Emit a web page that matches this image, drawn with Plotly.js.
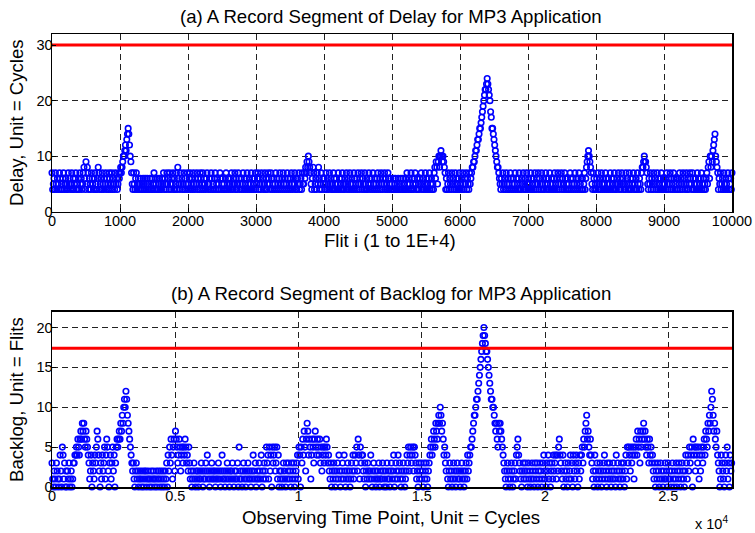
<!DOCTYPE html>
<html>
<head>
<meta charset="utf-8">
<script src="https://cdn.plot.ly/plotly-3.0.1.min.js"></script>
<style>
html,body{margin:0;padding:0;background:#ffffff;}
#chart{width:755px;height:533px;}
</style>
</head>
<body>
<div id="chart"></div>
<script>
// ---------------- DATA ----------------
// (a) Delay of flits, sampled every 10 flits; one array per 1000 flits
const delayStep = 10;
const delayBound = 30;
const delay0 = [7,4,5,6,4,7,5,4,6,5,4,7,6,4,5,4,6,7,4,5,
6,4,5,4,7,5,6,4,5,7,4,6,4,5,6,7,4,5,4,6,
4,7,5,6,4,5,7,8,6,4,9,5,8,7,4,6,5,4,7,6,
5,4,6,7,4,5,4,6,8,7,4,5,6,4,7,5,4,6,5,7,
4,6,5,4,7,6,4,5,7,4,6,5,4,7,5,6,4,5,7,6];
const delay1 = [7,8,7,8,9,10,10,11,12,11,13,14,15,14,12,10,9,7,5,4,
7,5,4,6,7,4,5,6,4,5,6,4,5,4,6,5,4,6,4,5,
6,4,5,4,6,5,4,6,4,5,7,4,6,5,4,6,4,5,6,4,
5,4,6,5,7,4,6,5,4,7,5,6,4,7,5,4,6,5,7,4,
6,4,5,7,4,8,6,5,4,7,5,6,4,5,7,4,6,5,4,7];
const delay2 = [5,4,6,7,4,5,6,4,7,5,4,6,5,7,4,6,5,4,7,6,
4,5,7,4,6,5,4,6,7,5,4,5,6,4,7,6,4,5,4,6,
7,4,5,6,4,5,4,7,6,4,5,6,4,5,4,6,7,4,5,6,
4,6,5,4,7,5,4,6,5,7,4,6,4,5,7,6,4,5,6,4,
5,7,4,6,5,4,6,7,4,5,6,4,5,7,4,6,5,4,6,7];
const delay3 = [4,5,6,7,4,6,5,4,7,5,6,4,5,7,4,6,4,5,7,6,
5,4,7,6,4,5,6,4,5,7,4,6,5,4,6,7,4,5,6,4,
7,5,4,6,5,4,7,6,4,5,6,4,7,5,4,6,5,7,4,6,
4,6,5,7,4,5,6,4,7,5,5,7,6,8,7,9,8,10,9,8,
7,5,4,6,8,7,4,5,6,4,7,5,8,6,4,5,7,4,6,5];
const delay4 = [6,4,5,7,4,6,5,4,7,5,6,4,5,4,7,6,4,5,6,4,
5,7,4,6,5,4,6,7,4,5,4,6,5,7,4,5,6,4,7,5,
4,6,5,4,7,6,4,5,6,4,7,5,4,6,5,7,4,6,5,4,
7,5,4,6,4,5,7,6,4,5,6,4,7,5,4,6,5,4,6,7,
4,5,6,4,7,5,4,6,5,7,4,6,5,4,7,6,4,5,6,4];
const delay5 = [5,4,6,4,5,6,4,4,5,6,4,5,4,6,5,4,6,4,5,4,
6,4,7,5,4,6,5,4,7,4,6,5,4,6,7,5,4,6,4,5,
4,6,5,7,4,5,6,4,5,7,4,6,5,4,6,7,4,5,6,4,
5,4,7,8,6,9,8,5,9,10,8,10,11,10,9,10,9,8,7,4,
6,4,5,7,4,6,5,4,7,5,6,4,5,7,4,6,5,4,6,7];
const delay6 = [4,5,6,4,7,5,4,6,5,7,4,6,5,4,7,5,6,7,8,8,
9,9,10,11,11,12,13,13,14,15,15,16,17,18,19,20,21,22,22,23,
24,23,22,21,20,18,17,15,15,14,13,12,11,10,9,8,8,7,6,5,
4,6,5,7,4,5,6,4,7,5,4,6,5,4,7,6,4,5,6,4,
5,7,4,6,5,4,6,7,4,5,4,6,5,7,4,5,6,4,7,5];
const delay7 = [4,6,5,4,7,6,4,5,6,4,7,5,4,6,5,7,4,6,5,4,
7,5,4,6,4,5,7,6,4,5,6,4,7,5,4,6,5,4,6,7,
4,5,6,4,7,5,4,6,5,7,4,6,5,4,7,6,4,5,6,4,
5,4,7,6,4,5,6,4,5,7,4,6,5,4,6,7,4,5,6,4,
6,4,5,7,4,6,8,9,10,11,10,9,8,7,5,4,7,6,4,5];
const delay8 = [4,6,5,7,4,5,6,4,7,5,4,6,5,4,7,6,4,5,6,4,
5,7,4,6,5,4,6,7,4,5,4,6,5,7,4,5,6,4,7,5,
6,4,5,4,7,5,6,4,5,7,4,6,4,5,6,7,4,5,4,6,
4,7,5,4,6,5,4,7,8,8,9,10,9,9,8,7,5,4,6,5,
7,4,6,5,4,7,5,6,4,5,7,4,6,5,4,6,7,4,5,6];
const delay9 = [4,5,6,4,7,5,4,6,5,7,4,6,5,4,7,6,4,5,6,4,
6,4,5,7,4,6,5,4,7,5,6,4,5,7,4,6,4,5,7,6,
5,4,7,6,4,5,6,4,5,7,4,6,5,4,6,7,4,5,6,4,
5,4,6,7,5,8,9,6,10,8,10,9,11,12,13,14,10,9,8,7,
4,6,5,7,4,5,6,4,7,5,4,6,5,4,7,6,4,5,6,4,7];
const delaySegments = [delay0,delay1,delay2,delay3,delay4,delay5,delay6,delay7,delay8,delay9];
const delayXTicks = [0,1000,2000,3000,4000,5000,6000,7000,8000,9000,10000];
const delayYTicks = [0,10,20,30];

// (b) Backlog, sampled every 30 cycles; one array per 3000 cycles
const backlogStep = 30;
const backlogBound = 17.4;
const backlog0 = [3,1,0,2,1,0,3,2,1,0,
1,4,2,0,5,4,1,3,0,2,
0,2,1,3,0,1,2,0,1,3,
3,4,4,5,4,6,5,4,6,7,
6,8,7,8,6,5,7,6,5,4,
3,1,2,4,0,3,2,1,4,3,
5,7,6,4,2,0,3,1,4,2,
3,5,1,4,6,5,2,0,3,4,
1,3,5,2,4,0,3,5,6,5,
6,7,6,8,7,9,8,10,11,10];
const backlog1 = [12,11,9,8,7,6,5,4,3,2,
3,1,0,2,3,1,2,0,1,2,
1,0,2,1,0,2,1,2,0,1,
2,1,0,1,2,0,1,2,1,0,
1,2,0,1,2,1,0,2,1,0,
2,1,0,2,1,3,0,4,2,5,
3,6,4,1,5,6,2,7,6,5,
3,4,6,5,2,4,5,3,5,4,
6,5,3,4,2,5,3,1,2,0,
1,2,3,1,0,2,1,2,0,1];
const backlog2 = [2,1,3,2,0,1,2,1,3,2,
4,1,2,0,1,2,3,1,2,1,
2,0,1,2,1,3,2,1,0,2,
4,1,2,1,0,2,1,3,2,1,
0,2,1,2,3,1,0,2,1,2,
1,3,0,5,1,2,1,0,2,3,
1,2,0,1,2,3,1,2,1,0,
2,1,4,2,1,3,0,1,2,1,
3,2,1,4,0,2,1,3,2,1,
5,3,4,1,5,2,4,0,5,3];
const backlog3 = [4,5,2,3,5,1,4,0,2,1,
2,0,1,3,2,1,0,3,1,2,
3,1,2,0,3,1,2,3,0,1,
2,3,4,1,5,4,0,5,3,6,
4,7,5,2,6,8,7,4,6,5,
1,4,6,5,3,6,7,5,4,6,
5,4,6,3,5,2,4,5,3,5,
4,6,5,3,4,2,1,3,0,2,
1,3,2,0,1,2,3,1,4,2,
0,1,2,3,1,4,2,0,1,2];
const backlog4 = [3,1,2,0,1,3,2,4,1,2,
4,3,5,2,6,4,1,5,3,4,
4,2,1,3,0,2,1,3,2,1,
2,4,1,0,2,3,1,2,0,1,
2,1,3,0,1,2,1,3,2,0,
1,2,0,3,1,2,1,0,2,3,
1,2,4,0,1,3,2,1,4,2,
3,1,0,2,1,3,2,0,1,2,
4,3,5,2,4,5,3,4,5,2,
5,4,3,1,2,0,3,1,2,3];
const backlog5 = [1,2,0,3,1,2,3,1,0,2,
3,4,5,6,4,5,7,6,5,8,
7,6,8,9,8,10,9,7,8,6,
4,5,3,2,4,1,0,2,3,1,
2,0,1,3,2,1,0,2,3,1,
2,1,0,2,3,1,2,0,1,2,
3,1,4,2,3,4,5,5,6,7,
8,9,9,10,11,11,12,13,14,15,
16,17,18,19,20,19,18,17,17,16,
15,14,13,12,11,11,10,10,9,8];
const backlog6 = [7,8,6,5,8,7,8,7,6,5,
4,3,2,1,0,2,3,1,2,0,
1,3,2,0,1,2,3,1,4,5,
6,4,3,2,1,0,2,3,1,2,
3,1,2,0,3,1,2,0,1,3,
2,1,0,3,2,1,3,0,2,1,
3,2,0,1,3,4,2,1,0,3,
2,4,1,3,0,2,3,1,4,2,
3,4,1,4,2,5,6,4,3,2,
1,4,0,2,3,1,2,0,3,1];
const backlog7 = [2,4,1,3,0,4,2,1,3,4,
2,0,3,1,4,2,4,5,3,6,
5,7,8,9,6,7,5,4,6,4,
3,1,2,0,4,2,1,3,0,2,
1,3,2,0,1,2,3,4,1,2,
0,3,1,2,3,1,0,2,1,3,
2,1,0,4,2,3,1,2,0,1,
3,2,1,3,0,2,4,1,5,3,
5,4,2,5,3,4,5,1,4,5,
6,4,7,5,6,3,7,5,6,7];
const backlog8 = [8,6,7,5,4,6,5,3,6,4,
5,3,4,2,1,3,0,2,1,3,
2,0,1,3,2,1,0,2,1,3,
1,2,0,3,1,2,1,0,2,3,
1,0,2,1,3,0,2,1,3,2,
0,1,3,2,1,0,2,4,3,1,
4,2,5,3,4,5,0,6,4,5,
2,5,4,3,5,1,4,2,5,4,
3,5,6,4,7,6,5,8,7,9,
8,10,12,11,9,7,8,6,5,7];
const backlog9 = [4,3,2,0,1,4,3,2,1,0,3,4,2,5,1,3,0,4,2,3];
const backlogSegments = [backlog0,backlog1,backlog2,backlog3,backlog4,backlog5,backlog6,backlog7,backlog8,backlog9];
const backlogXMax = 27585;
const backlogXTicks = [0,5000,10000,15000,20000,25000];
const backlogXTickText = ['0','0.5','1','1.5','2','2.5'];
const backlogYTicks = [0,5,10,15,20];

// ---------------- BUILD ----------------
function flatten(segments, segLen) {
  const xs = [], ys = [];
  segments.forEach((seg, k) => {
    seg.forEach((v, i) => { xs.push(k * segLen + i * (segLen / 100)); ys.push(v); });
  });
  return {xs, ys};
}
const d = flatten(delaySegments, 100 * delayStep);
const b = flatten(backlogSegments, 100 * backlogStep);

const FONT = '"Liberation Sans", Arial, Helvetica, sans-serif';
const LABEL = 18.6;
const markerStyle = {symbol: 'circle-open', size: 5.5, color: '#0000ff', line: {width: 1.6, color: '#0000ff'}};

const traces = [
  {x: d.xs, y: d.ys, xaxis: 'x', yaxis: 'y', type: 'scatter', mode: 'markers',
   marker: markerStyle, cliponaxis: false, hoverinfo: 'skip', name: 'Delay'},
  {x: [0, 10000], y: [delayBound, delayBound], xaxis: 'x', yaxis: 'y', type: 'scatter', mode: 'lines',
   line: {color: '#ff0000', width: 3}, hoverinfo: 'skip', name: 'Delay bound'},
  {x: b.xs, y: b.ys, xaxis: 'x2', yaxis: 'y2', type: 'scatter', mode: 'markers',
   marker: markerStyle, cliponaxis: false, hoverinfo: 'skip', name: 'Backlog'},
  {x: [0, backlogXMax], y: [backlogBound, backlogBound], xaxis: 'x2', yaxis: 'y2', type: 'scatter', mode: 'lines',
   line: {color: '#ff0000', width: 3}, hoverinfo: 'skip', name: 'Backlog bound'}
];

const axisCommon = {
  showline: true, mirror: true, linecolor: '#000', linewidth: 1.5,
  showgrid: true, gridcolor: '#222', griddash: '6px,4px', gridwidth: 1,
  zeroline: false, ticks: 'inside', ticklen: 4, tickcolor: '#000',
  tickfont: {family: FONT, size: 14.5, color: '#000'}
};

const H = 533, mB = 46, mT = 34, plotH = H - mB - mT;
function py(p) { return (H - mB - p) / plotH; }   // pixel row -> paper y
function px(p) { return (p - 52) / 680; }          // pixel col -> paper x

const layout = {
  width: 755, height: 533,
  margin: {l: 52, r: 23, t: mT, b: mB, pad: 0},
  paper_bgcolor: '#fff', plot_bgcolor: '#fff',
  showlegend: false,
  font: {family: FONT, color: '#000'},
  xaxis: Object.assign({}, axisCommon, {domain: [0, 1], anchor: 'y', range: [0, 10000],
    tickvals: delayXTicks, ticktext: delayXTicks.map(String), ticklabelstandoff: -5}),
  yaxis: Object.assign({}, axisCommon, {domain: [py(211.7), 1], anchor: 'x', range: [0, 32],
    tickvals: delayYTicks, ticktext: delayYTicks.map(String), ticklabelstandoff: -5}),
  xaxis2: Object.assign({}, axisCommon, {domain: [0, 1], anchor: 'y2', range: [0, backlogXMax],
    tickvals: backlogXTicks, ticktext: backlogXTickText, ticklabelstandoff: -5}),
  yaxis2: Object.assign({}, axisCommon, {domain: [0, py(311.5)], anchor: 'x2', range: [0, 22],
    tickvals: backlogYTicks, ticktext: backlogYTicks.map(String), ticklabelstandoff: -5}),
  annotations: [
    {text: '(a) A Record Segment of Delay for MP3 Application', xref: 'paper', yref: 'paper',
     x: px(390.5), y: py(16.5), xanchor: 'center', yanchor: 'middle', showarrow: false,
     font: {family: FONT, size: LABEL, color: '#000'}},
    {text: 'Flit i (1 to 1E+4)', xref: 'paper', yref: 'paper',
     x: px(390), y: py(240), xanchor: 'center', yanchor: 'middle', showarrow: false,
     font: {family: FONT, size: LABEL, color: '#000'}},
    {text: 'Delay, Unit = Cycles', xref: 'paper', yref: 'paper',
     x: px(16), y: py(123), xanchor: 'center', yanchor: 'middle', textangle: -90, showarrow: false,
     font: {family: FONT, size: LABEL, color: '#000'}},
    {text: '(b) A Record Segment of Backlog for MP3 Application', xref: 'paper', yref: 'paper',
     x: px(390.5), y: py(293.5), xanchor: 'center', yanchor: 'middle', showarrow: false,
     font: {family: FONT, size: LABEL, color: '#000'}},
    {text: 'Observing Time Point, Unit = Cycles', xref: 'paper', yref: 'paper',
     x: px(391), y: py(517), xanchor: 'center', yanchor: 'middle', showarrow: false,
     font: {family: FONT, size: LABEL, color: '#000'}},
    {text: 'Backlog, Unit = Flits', xref: 'paper', yref: 'paper',
     x: px(16), y: py(400), xanchor: 'center', yanchor: 'middle', textangle: -90, showarrow: false,
     font: {family: FONT, size: LABEL, color: '#000'}},
    {text: 'x 10<sup>4</sup>', xref: 'paper', yref: 'paper',
     x: px(711), y: py(523), xanchor: 'center', yanchor: 'middle', showarrow: false,
     font: {family: FONT, size: 14.5, color: '#000'}}
  ]
};

Plotly.newPlot('chart', traces, layout, {staticPlot: true, displayModeBar: false});
</script>
</body>
</html>
